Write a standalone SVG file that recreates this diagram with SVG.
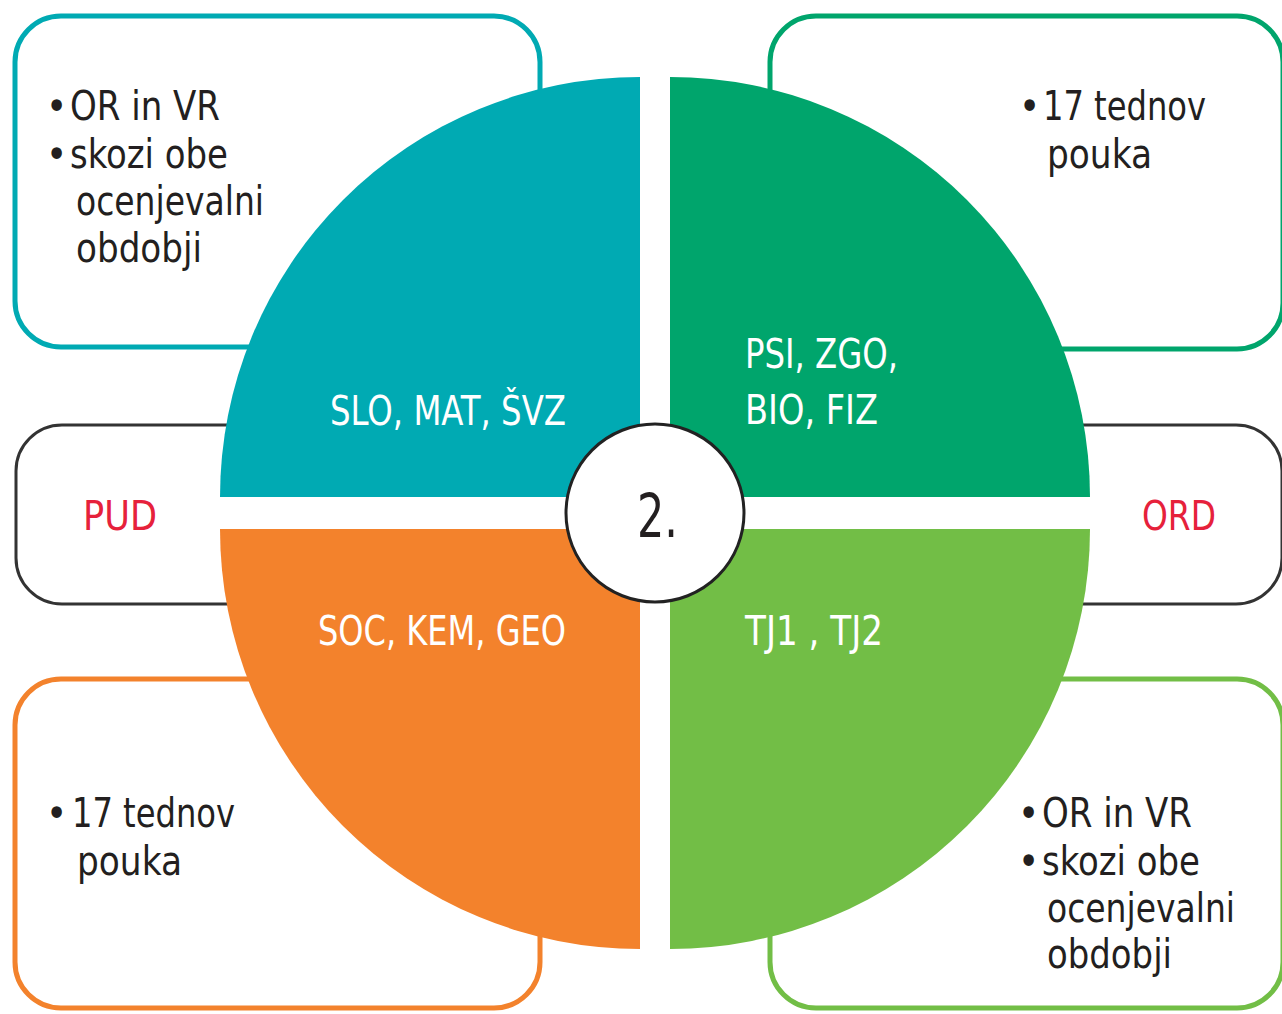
<svg xmlns="http://www.w3.org/2000/svg" width="1282" height="1014" viewBox="0 0 1282 1014">
<style>
.bg{fill:#ffffff}
.box{fill:#ffffff;stroke-width:5}
.mid{fill:#ffffff;stroke:#333333;stroke-width:3}
.t{font-family:"DejaVu Sans","Liberation Sans",sans-serif;font-stretch:condensed;font-size:40px;fill:#231f20}
.w{font-family:"DejaVu Sans","Liberation Sans",sans-serif;font-stretch:condensed;font-size:41px;fill:#ffffff}
.r{font-family:"DejaVu Sans","Liberation Sans",sans-serif;font-stretch:condensed;font-size:41px;fill:#e6213b}
.num{font-family:"DejaVu Sans","Liberation Sans",sans-serif;font-stretch:condensed;font-size:60px;fill:#231f20}
</style>
<rect class="bg" x="0" y="0" width="1282" height="1014"/>

<g id="box-tl"><rect class="box" x="15" y="16" width="525" height="331" rx="46" stroke="#00aab3"/>
<text class="t"><tspan x="46" y="120">•</tspan><tspan x="70" y="120" textLength="150" lengthAdjust="spacingAndGlyphs">OR in VR</tspan></text>
<text class="t"><tspan x="46" y="168">•</tspan><tspan x="70" y="168" textLength="158" lengthAdjust="spacingAndGlyphs">skozi obe</tspan></text>
<text class="t" x="76" y="215" textLength="188" lengthAdjust="spacingAndGlyphs">ocenjevalni</text>
<text class="t" x="76" y="262" textLength="126" lengthAdjust="spacingAndGlyphs">obdobji</text>
</g>

<g id="box-tr"><rect class="box" x="770" y="16" width="513" height="333" rx="46" stroke="#00a56c"/>
<text class="t"><tspan x="1019" y="120">•</tspan><tspan x="1043" y="120" textLength="163" lengthAdjust="spacingAndGlyphs">17 tednov</tspan></text>
<text class="t" x="1047" y="168" textLength="105" lengthAdjust="spacingAndGlyphs">pouka</text>
</g>

<g id="box-pud"><rect class="mid" x="16" y="425" width="600" height="179" rx="46"/>
<text class="r" x="83" y="530" textLength="74" lengthAdjust="spacingAndGlyphs">PUD</text>
</g>

<g id="box-ord"><rect class="mid" x="700" y="425" width="582" height="179" rx="46"/>
<text class="r" x="1142" y="530" textLength="74" lengthAdjust="spacingAndGlyphs">ORD</text>
</g>

<g id="box-bl"><rect class="box" x="15" y="679" width="525" height="329" rx="46" stroke="#f3822c"/>
<text class="t"><tspan x="46" y="827">•</tspan><tspan x="72" y="827" textLength="163" lengthAdjust="spacingAndGlyphs">17 tednov</tspan></text>
<text class="t" x="77" y="875" textLength="105" lengthAdjust="spacingAndGlyphs">pouka</text>
</g>

<g id="box-br"><rect class="box" x="770" y="679" width="513" height="329" rx="46" stroke="#72be46"/>
<text class="t"><tspan x="1018" y="827">•</tspan><tspan x="1042" y="827" textLength="150" lengthAdjust="spacingAndGlyphs">OR in VR</tspan></text>
<text class="t"><tspan x="1018" y="875">•</tspan><tspan x="1042" y="875" textLength="158" lengthAdjust="spacingAndGlyphs">skozi obe</tspan></text>
<text class="t" x="1047" y="922" textLength="188" lengthAdjust="spacingAndGlyphs">ocenjevalni</text>
<text class="t" x="1047" y="968" textLength="125" lengthAdjust="spacingAndGlyphs">obdobji</text>
</g>

<g id="q-teal"><path d="M640,497 L220,497 A420,420 0 0 1 640,77 Z" fill="#00aab3"/>
<text class="w" x="330" y="425" textLength="236" lengthAdjust="spacingAndGlyphs">SLO, MAT, ŠVZ</text>
</g>
<g id="q-green"><path d="M670,497 L670,77 A420,420 0 0 1 1090,497 Z" fill="#00a56c"/>
<text class="w" x="745" y="368" textLength="153" lengthAdjust="spacingAndGlyphs">PSI, ZGO,</text>
<text class="w" x="745" y="424" textLength="133" lengthAdjust="spacingAndGlyphs">BIO, FIZ</text>
</g>
<g id="q-orange"><path d="M640,529 L640,949 A420,420 0 0 1 220,529 Z" fill="#f3822c"/>
<text class="w" x="318" y="645" textLength="248" lengthAdjust="spacingAndGlyphs">SOC, KEM, GEO</text>
</g>
<g id="q-lime"><path d="M670,529 L1090,529 A420,420 0 0 1 670,949 Z" fill="#72be46"/>
<text class="w" x="745" y="645" textLength="138" lengthAdjust="spacingAndGlyphs">TJ1 , TJ2</text>
</g>

<g id="center"><circle cx="655" cy="513" r="89" fill="#ffffff" stroke="#222222" stroke-width="3"/>
<text class="num" x="637" y="537" textLength="41" lengthAdjust="spacingAndGlyphs">2.</text>
</g>
<g id="connectors"></g>
</svg>
